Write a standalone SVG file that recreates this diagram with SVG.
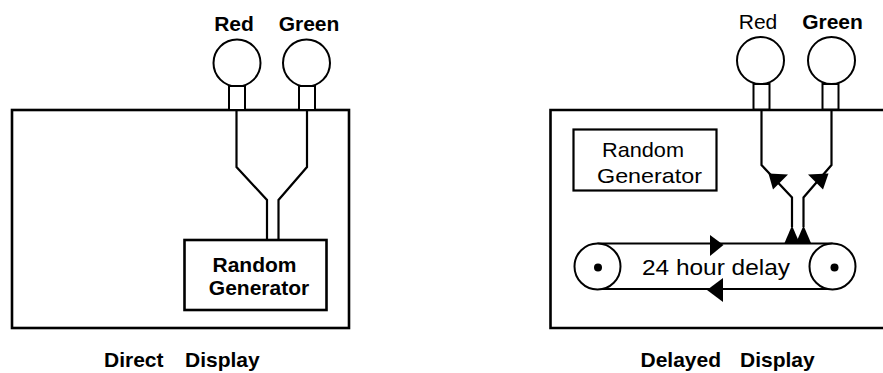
<svg xmlns="http://www.w3.org/2000/svg" width="883" height="373" viewBox="0 0 883 373">
<style>
.ln{fill:none;stroke:#000;stroke-width:2.2;stroke-linejoin:miter}
.box{fill:none;stroke:#000;stroke-width:2.6}
.lamp{fill:#fff;stroke:#000;stroke-width:2}
.fill{fill:#000;stroke:none}
.b{font-family:"Liberation Sans",Arial,sans-serif;font-weight:bold;font-size:21px;fill:#000}
.r{font-family:"Liberation Sans",Arial,sans-serif;font-weight:normal;font-size:21px;fill:#000}
</style>
<rect width="883" height="373" fill="#fff"/>

<!-- Left panel: Direct Display -->
<g id="direct-panel">
  <rect class="box" x="12" y="110" width="337" height="218"/>
</g>
<g id="direct-red-lamp">
  <circle class="lamp" cx="237" cy="63" r="23.5"/>
  <rect class="lamp" x="229" y="86" width="16" height="24"/>
  <text class="b" x="234" y="30.5" text-anchor="middle">Red</text>
</g>
<g id="direct-green-lamp">
  <circle class="lamp" cx="306.5" cy="63" r="23.5"/>
  <rect class="lamp" x="299" y="86" width="16" height="24"/>
  <text class="b" x="309" y="30.5" text-anchor="middle">Green</text>
</g>
<g id="direct-generator">
  <rect class="box" x="184.5" y="240" width="142" height="70"/>
  <text class="b" x="254.5" y="271.5" text-anchor="middle">Random</text>
  <text class="b" x="259" y="295" text-anchor="middle">Generator</text>
</g>
<g id="direct-label">
  <text class="b" x="104" y="366.5">Direct</text>
  <text class="b" x="185" y="366.5">Display</text>
</g>

<!-- Right panel: Delayed Display -->
<g id="delayed-panel">
  <path class="box" d="M890,110 H550.5 V328 H890"/>
</g>
<g id="delayed-red-lamp">
  <circle class="lamp" cx="760.5" cy="60.5" r="23.5"/>
  <rect class="lamp" x="753.5" y="84" width="16" height="25.5"/>
  <text class="r" x="758" y="29" text-anchor="middle">Red</text>
</g>
<g id="delayed-green-lamp">
  <circle class="lamp" cx="831.5" cy="60.5" r="23.5"/>
  <rect class="lamp" x="822.5" y="84" width="16" height="25.5"/>
  <text class="b" x="832.5" y="29" text-anchor="middle">Green</text>
</g>
<g id="delayed-generator">
  <rect class="ln" x="573.5" y="129.5" width="143" height="61"/>
  <text class="r" x="602" y="157" textLength="82" lengthAdjust="spacingAndGlyphs">Random</text>
  <text class="r" x="597" y="183" textLength="105" lengthAdjust="spacingAndGlyphs">Generator</text>
</g>
<g id="delay-belt">
  <line class="ln" x1="597.5" y1="243.5" x2="832.5" y2="243.5"/>
  <line class="ln" x1="597.5" y1="289" x2="832.5" y2="289"/>
  <circle class="lamp" cx="597.5" cy="266.5" r="23"/>
  <circle class="lamp" cx="832.5" cy="266.5" r="23"/>
  <circle class="fill" cx="598" cy="267.5" r="4"/>
  <circle class="fill" cx="834.5" cy="267.5" r="4"/>
  <polygon class="fill" points="710,235 710,256 723.5,245"/>
  <polygon class="fill" points="723,278 723,302 707,290"/>
  <text class="r" x="642" y="275" style="font-size:22px" textLength="148" lengthAdjust="spacingAndGlyphs">24 hour delay</text>
</g>
<g id="delayed-label">
  <text class="b" x="640.5" y="366.5">Delayed</text>
  <text class="b" x="740" y="366.5">Display</text>
</g>

<!-- Connectors -->
<g id="connectors">
  <path class="ln" d="M236.5,111 V167 L267,200 V240"/>
  <path class="ln" d="M307,111 V167 L278.5,200 V240"/>
  <path class="ln" d="M761.5,111 V165 L792,197.5 V227"/>
  <path class="ln" d="M831.5,111 V165 L803.5,197.5 V227"/>
  <polygon class="fill" points="768.5,173.5 788,174.5 773,189.5"/>
  <polygon class="fill" points="828.5,173.5 808,174.5 823,189.5"/>
  <polygon class="fill" points="784.5,243 792,225.5 799.5,243"/>
  <polygon class="fill" points="796,243 803.5,225.5 811,243"/>
</g>
</svg>
